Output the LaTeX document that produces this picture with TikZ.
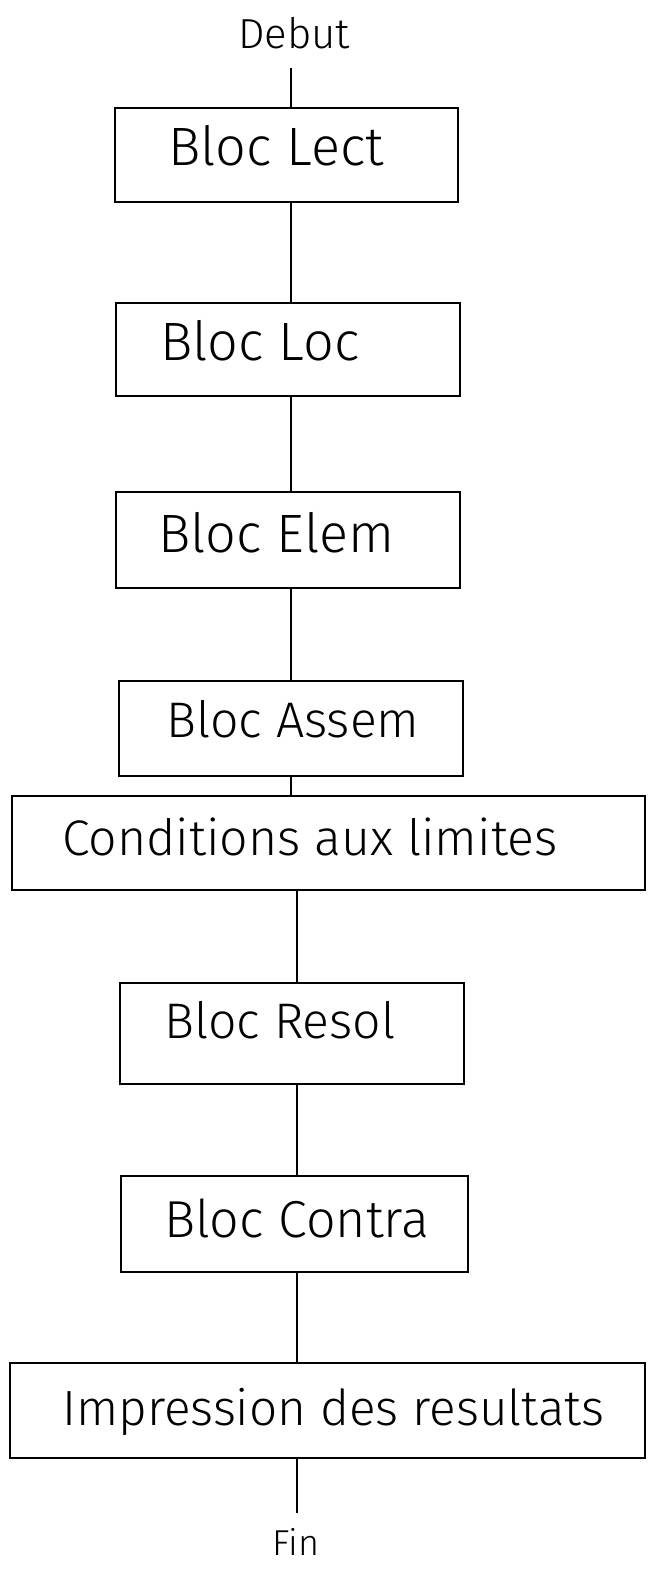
\documentclass[tikz,border=0pt]{standalone}
\usepackage{fontspec}
\newfontfamily\hand{Fira Sans Light}
\newcommand\handsize[1]{\hand\fontsize{#1}{#1}\selectfont}
\begin{document}
\begin{tikzpicture}[x=1pt,y=-1pt,
  blk/.style={draw=black, line width=1.5pt, rectangle, inner sep=0pt},
  txt/.style={anchor=base west, inner sep=0pt, text=black, font=\handsize{54}},
  term/.style={anchor=base west, inner sep=0pt, text=black, font=\handsize{42}},
  conn/.style={draw=black, line width=1.4pt}]
\useasboundingbox (0,0) rectangle (650,1569);

% vertical axes of the chart
\coordinate (axA) at (291,0);
\coordinate (axB) at (297,0);

% terminal labels
\node[term] (debut) at (238,48) {Debut};
\node[term, font=\handsize{36}] (fin) at (272,1555) {Fin};

% blocks
\node[blk, minimum width=343pt, minimum height=94pt]  (lect)   at (286.5,155)  {};
\node[blk, minimum width=344pt, minimum height=93pt]  (loc)    at (288,349.5)  {};
\node[blk, minimum width=344pt, minimum height=96pt]  (elem)   at (288,540)    {};
\node[blk, minimum width=344pt, minimum height=95pt]  (assem)  at (291,728.5)  {};
\node[blk, minimum width=633pt, minimum height=94pt]  (cond)   at (328.5,843)  {};
\node[blk, minimum width=344pt, minimum height=101pt] (resol)  at (292,1033.5) {};
\node[blk, minimum width=347pt, minimum height=96pt]  (contra) at (294.5,1224) {};
\node[blk, minimum width=635pt, minimum height=95pt]  (impr)   at (327.5,1410.5) {};

% block titles
\node[txt] (lectT)   at (168,165)  {Bloc Lect};
\node[txt] (locT)    at (160,360)  {Bloc Loc};
\node[txt] (elemT)   at (158,552)  {Bloc Elem};
\node[txt, font=\handsize{50}] (assemT)  at (166,737)  {Bloc Assem};
\node[txt, font=\handsize{50}] (condT)   at (62,855)   {Conditions aux limites};
\node[txt, font=\handsize{50}] (resolT)  at (164,1038) {Bloc Resol};
\node[txt, font=\handsize{52}] (contraT) at (164,1237) {Bloc Contra};
\node[txt, font=\handsize{49.5}] (imprT) at (62,1425)  {Impression des resultats};

% connectors
\draw[conn, shorten <=19pt] (axA |- debut.south) -- (axA |- lect.north);
\draw[conn] (axA |- lect.south)   -- (axA |- loc.north);
\draw[conn] (axA |- loc.south)    -- (axA |- elem.north);
\draw[conn] (axA |- elem.south)   -- (axA |- assem.north);
\draw[conn] (axA |- assem.south)  -- (axA |- cond.north);
\draw[conn] (axB |- cond.south)   -- (axB |- resol.north);
\draw[conn] (axB |- resol.south)  -- (axB |- contra.north);
\draw[conn] (axB |- contra.south) -- (axB |- impr.north);
\draw[conn, shorten >=15pt] (axB |- impr.south) -- (axB |- fin.north);
\end{tikzpicture}
\end{document}
